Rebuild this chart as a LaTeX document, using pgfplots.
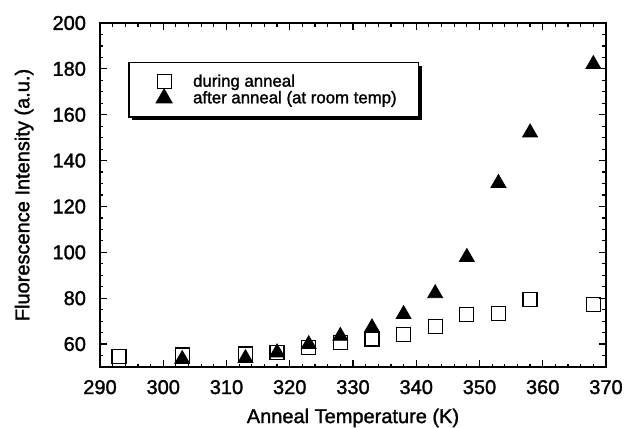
\documentclass[border=0pt]{standalone}
\usepackage{pgfplots}
\pgfplotsset{compat=1.18}
\usepackage{fontspec}
\setmainfont{Liberation Sans}[FakeBold=1.5]
\usetikzlibrary{shadows}

\begin{document}
\begin{tikzpicture}
\useasboundingbox (-50pt,-30.5pt) rectangle (263pt,183.5pt);
\begin{axis}[
    scale only axis,
    width=253pt,
    height=172pt,
    xmin=290, xmax=370,
    ymin=50, ymax=200,
    xtick={290,300,...,370},
    ytick={60,80,...,200},
    minor xtick={290,292,...,370},
    minor ytick={50,55,...,200},
    tick align=inside,
    major tick length=3.5pt,
    minor tick length=1.75pt,
    every tick/.style={black, line width=0.6pt},
    axis line style={line width=0.75pt},
    font=\fontsize{10}{12}\selectfont,
    /pgf/number format/assume math mode=true,
    yticklabel style={xshift=-3.5pt},
    xticklabel style={yshift=-3pt},
    xlabel={Anneal Temperature (K)},
    ylabel={Fluorescence Intensity (a.u.)},
    every axis x label/.style={at={(axis description cs:0.5,-0.148)}, anchor=center},
    every axis y label/.style={at={(axis description cs:-0.150,0.5)}, anchor=center, rotate=90},
    clip marker paths=true,
    legend image code/.code={
        \pgfpathrectangle{\pgfpoint{0pt}{-1pt}}{\pgfpoint{21pt}{2pt}}\pgfusepath{}
        \draw[mark repeat=2,mark phase=2,#1] plot coordinates {(0pt,0pt) (8.5pt,0pt) (21pt,0pt)};},
    legend style={
        at={(axis description cs:0.056,0.887)}, anchor=north west,
        draw=black, line width=0.8pt, fill=white,
        drop shadow={shadow xshift=1.6pt, shadow yshift=-1.6pt, fill=black, opacity=1},
        inner xsep=9pt, inner ysep=5.5pt, row sep=0pt,
        font=\fontsize{8.4}{10}\selectfont,
        nodes={text height=6.5pt, text depth=1.5pt, inner ysep=0pt},
    },
    legend cell align=left,
]
% during anneal
\addplot[only marks, mark=square, mark size=3.5pt, black, mark options={line width=0.6pt}]
coordinates {
    (293,54.6) (293,49) (303,55.2) (313,55.7) (318,56.4) (323,58.6) (328,60.7)
    (333,62.2) (338,64.0) (343,67.5) (348,73.0) (353,73.3) (358,79.5) (368,77.4)
};
% after anneal (at room temp)
\addplot[only marks, mark=triangle*, mark size=4.3pt, black]
coordinates {
    (303,53.4) (313,53.8) (318,56.3) (323,59.9) (328,63.5) (333,67.2)
    (338,73.0) (343,82.1) (348,97.9) (353,130.2) (358,152.2) (368,182.0)
};
\legend{during anneal, after anneal (at room temp)}
\end{axis}
\end{tikzpicture}
\end{document}
